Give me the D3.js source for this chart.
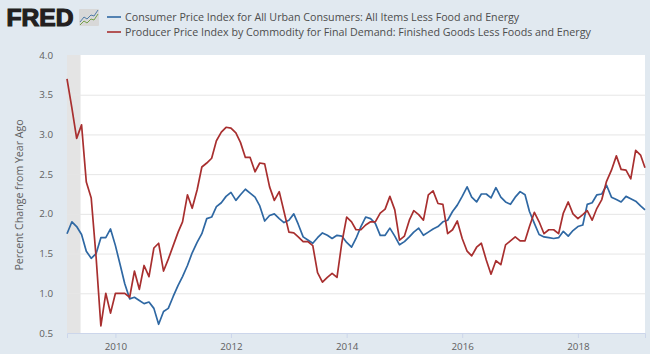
<!DOCTYPE html>
<html>
<head>
<meta charset="utf-8">
<script src="https://cdn.jsdelivr.net/npm/d3@7"></script>
<style>
  html, body { margin: 0; padding: 0; background: #e1e9f0; }
  svg { display: block; }
  text { font-family: "Open Sans", sans-serif; }
</style>
</head>
<body>
<div id="chart"></div>
<script>
// monthly, first value is March 2009
const startMonth = "2009-03-01";
const cpiValues = [
  1.75, 1.90, 1.84, 1.74, 1.53, 1.44, 1.50, 1.70, 1.70, 1.81,
  1.60, 1.35, 1.12, 0.93, 0.95, 0.91, 0.87, 0.89, 0.81, 0.61, 0.77, 0.81,
  0.96, 1.10, 1.21, 1.35, 1.51, 1.64, 1.75, 1.94, 1.96, 2.09, 2.14, 2.22,
  2.27, 2.17, 2.24, 2.31, 2.26, 2.21, 2.10, 1.91, 1.98, 2.00, 1.94, 1.89,
  1.92, 2.00, 1.87, 1.71, 1.67, 1.63, 1.70, 1.76, 1.73, 1.69, 1.73, 1.72,
  1.64, 1.58, 1.69, 1.84, 1.96, 1.94, 1.88, 1.73, 1.73, 1.82, 1.72, 1.61,
  1.65, 1.71, 1.77, 1.82, 1.73, 1.77, 1.81, 1.84, 1.90, 1.92, 2.03, 2.11,
  2.22, 2.34, 2.21, 2.15, 2.25, 2.25, 2.20, 2.33, 2.21, 2.15, 2.12, 2.21,
  2.28, 2.24, 2.03, 1.88, 1.74, 1.71, 1.70, 1.69, 1.70, 1.78, 1.72, 1.79,
  1.84, 1.86, 2.12, 2.14, 2.24, 2.25, 2.36, 2.21, 2.18, 2.15, 2.22, 2.19,
  2.16, 2.10, 2.05
];
const ppiValues = [
  3.70, 3.33, 2.95, 3.12, 2.40, 2.20, 1.45, 0.59, 1.00, 0.75,
  1.00, 1.00, 1.00, 0.95, 1.28, 1.05, 1.35, 1.21, 1.57, 1.63, 1.28, 1.43,
  1.60, 1.77, 1.90, 2.24, 2.07, 2.30, 2.59, 2.64, 2.70, 2.92, 3.03, 3.09,
  3.08, 3.02, 2.90, 2.71, 2.71, 2.53, 2.64, 2.63, 2.34, 2.17, 2.28, 2.03,
  1.77, 1.76, 1.71, 1.65, 1.65, 1.60, 1.26, 1.14, 1.20, 1.25, 1.20, 1.63,
  1.96, 1.90, 1.80, 1.80, 1.86, 1.90, 1.90, 2.01, 2.06, 2.22, 2.05, 1.67,
  1.72, 1.92, 2.04, 1.99, 1.92, 2.24, 2.29, 2.13, 2.12, 1.75, 1.80, 1.91,
  1.69, 1.53, 1.47, 1.58, 1.63, 1.42, 1.24, 1.41, 1.36, 1.61, 1.66, 1.71,
  1.66, 1.66, 1.84, 2.02, 1.90, 1.75, 1.80, 1.80, 1.75, 2.01, 2.15, 2.00,
  1.94, 1.99, 2.04, 1.92, 2.07, 2.18, 2.41, 2.55, 2.73, 2.56, 2.55, 2.44,
  2.80, 2.74, 2.58
];
const seriesNames = [
  "Consumer Price Index for All Urban Consumers: All Items Less Food and Energy",
  "Producer Price Index by Commodity for Final Demand: Finished Goods Less Foods and Energy"
];
const seriesColors = ["#2f68a3", "#a82f2f"];
const yTicks = [0.5, 1.0, 1.5, 2.0, 2.5, 3.0, 3.5, 4.0];
const xTickYears = [2010, 2012, 2014, 2016, 2018];
const recession = ["2009-03-01", "2009-06-01"];

const W = 650, H = 354;
const margin = {top: 55, right: 5, bottom: 21, left: 67};
const width = W - margin.left - margin.right,
      height = H - margin.top - margin.bottom;

const svg = d3.select("#chart").append("svg")
    .attr("width", W)
    .attr("height", H);

const months = d3.utcMonth.range(new Date(startMonth), d3.utcMonth.offset(new Date(startMonth), cpiValues.length));

const x = d3.scaleUtc()
    .domain([months[0], months[months.length - 1]])
    .range([0, width]);
const y = d3.scaleLinear()
    .domain([0.5, 4])
    .range([height, 0]);

const g = svg.append("g")
    .attr("transform", `translate(${margin.left},${margin.top})`);

// plot background
g.append("rect")
    .attr("width", width)
    .attr("height", height)
    .attr("fill", "#fff");

// recession band
g.append("rect")
    .attr("x", x(new Date(recession[0])))
    .attr("width", x(new Date(recession[1])) - x(new Date(recession[0])) - 1)
    .attr("height", height)
    .attr("fill", "#e4e4e4");

// y axis with gridlines
const yAxis = g.append("g")
    .call(d3.axisLeft(y).tickValues(yTicks).tickFormat(d3.format(".1f")).tickSize(-width).tickPadding(14));
yAxis.select(".domain").remove();
yAxis.selectAll("line").attr("stroke", "#e6e6e6").attr("stroke-width", 1);
yAxis.selectAll("text").attr("fill", "#606060").style("font-size", "9.8px");
yAxis.selectAll(".tick").filter(d => d === 0.5 || d === 4).select("line").remove();

// x axis
const xAxis = g.append("g")
    .attr("transform", `translate(0,${height})`)
    .call(d3.axisBottom(x)
        .tickValues(xTickYears.map(d => new Date(Date.UTC(d, 0, 1))))
        .tickFormat(d3.utcFormat("%Y"))
        .tickSize(5)
        .tickPadding(5));
xAxis.select(".domain").attr("stroke", "#ccd6eb");
xAxis.selectAll("line").attr("stroke", "#ccd6eb");
xAxis.selectAll("text").attr("fill", "#606060").style("font-size", "9.8px");

// y axis title
svg.append("text")
    .attr("transform", "translate(23,195) rotate(-90)")
    .attr("text-anchor", "middle")
    .attr("fill", "#606060")
    .style("font-size", "10.6px")
    .text("Percent Change from Year Ago");

// the two lines
const line = d3.line()
    .x((d, i) => x(months[i]))
    .y(d => y(d));

g.selectAll(".series")
    .data([cpiValues, ppiValues])
    .join("path")
    .attr("class", "series")
    .attr("fill", "none")
    .attr("stroke", (d, i) => seriesColors[i])
    .attr("stroke-width", 1.7)
    .attr("stroke-linejoin", "round")
    .attr("d", line);

// legend
const legend = svg.selectAll(".legend")
    .data(seriesNames)
    .join("g")
    .attr("class", "legend")
    .attr("transform", (d, i) => `translate(107,${17 + i * 15})`);
legend.append("line")
    .attr("x1", 0)
    .attr("x2", 14)
    .attr("stroke", (d, i) => seriesColors[i])
    .attr("stroke-width", 1.6);
legend.append("text")
    .attr("x", 18)
    .attr("y", 4)
    .attr("fill", "#4d4d4d")
    .style("font-size", "10.7px")
    .text(d => d);

// FRED logo
svg.append("text")
    .attr("x", 6.5)
    .attr("y", 26)
    .attr("textLength", 67)
    .attr("lengthAdjust", "spacingAndGlyphs")
    .attr("fill", "#231f20")
    .attr("stroke", "#231f20")
    .attr("stroke-width", 1.2)
    .style("font-family", "'Liberation Sans', sans-serif")
    .style("font-weight", "bold")
    .style("font-size", "24px")
    .text("FRED");
const icon = svg.append("g").attr("transform", "translate(79,9)");
icon.append("rect")
    .attr("width", 20)
    .attr("height", 17)
    .attr("rx", 1)
    .attr("fill", "#d8d8d8");
icon.append("path")
    .attr("d", "M1,13 L5,8 L8,10 L12,6 L15,7 L19,1")
    .attr("fill", "none")
    .attr("stroke", "#4f7ba8")
    .attr("stroke-width", 1);
icon.append("path")
    .attr("d", "M1,16 L5,12 L8,14 L12,10 L15,11 L19,5")
    .attr("fill", "none")
    .attr("stroke", "#74a04a")
    .attr("stroke-width", 1);
</script>
</body>
</html>
